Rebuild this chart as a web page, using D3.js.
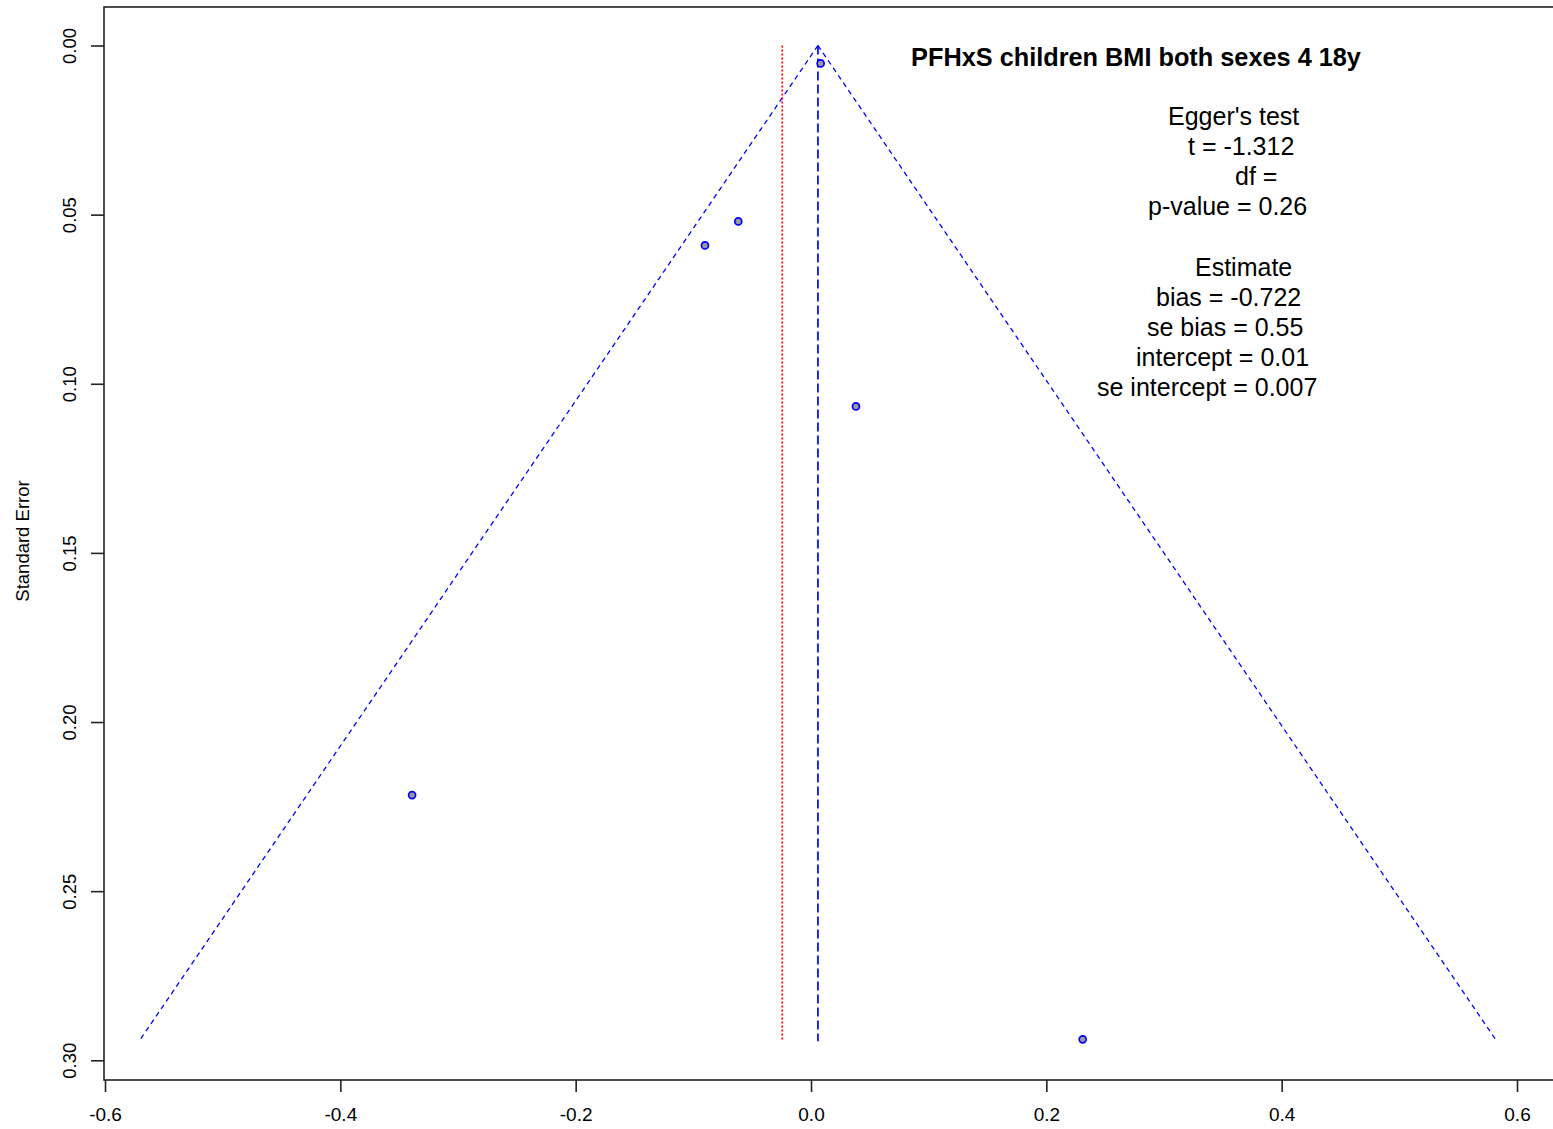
<!DOCTYPE html>
<html><head><meta charset="utf-8">
<script src="https://cdn.jsdelivr.net/npm/d3@7"></script>
<style>
html,body{margin:0;padding:0;background:#fff;}
svg{display:block;font-family:"Liberation Sans",Arial,sans-serif;}
</style></head>
<body>
<script>
// ---- data ----
const studyEstimates = [0.0082, -0.0618, -0.0901, 0.0382, -0.339, 0.2309];
const studySE        = [0.0053, 0.052, 0.0591, 0.1067, 0.2216, 0.2938];
const pooledEstimate = 0.0059;     // blue dashed centre line
const eggerEstimate  = -0.0244;    // red dotted line
const maxSE = 0.2938;
const xTicks = [-0.6, -0.4, -0.2, 0.0, 0.2, 0.4, 0.6];
const yTicks = [0.00, 0.05, 0.10, 0.15, 0.20, 0.25, 0.30];
const titleText = "PFHxS children BMI both sexes 4 18y";
const statLines = ["Egger's test", "t = -1.312", "df =", "p-value = 0.26", "",
                   "Estimate", "bias = -0.722", "se bias = 0.55", "intercept = 0.01", "se intercept = 0.007"];
const yAxisTitle = "Standard Error";

// ---- layout ----
const W = 1553, H = 1129;
const statLeft = [1168, 1188, 1235, 1148, 0, 1195, 1156, 1147, 1136, 1097];

const svg = d3.select("body").append("svg").attr("width", W).attr("height", H);

const x = d3.scaleLinear().domain([-0.6, 0.6]).range([105, 1517]);
const y = d3.scaleLinear().domain([0, 0.30]).range([45.5, 1060.3]);

const box = {left: 104, top: 7, bottom: 1080, right: 1600};

// box
svg.append("rect").attr("x", box.left).attr("y", box.top)
  .attr("width", box.right - box.left).attr("height", box.bottom - box.top)
  .attr("fill", "none").attr("stroke", "#222").attr("stroke-width", 1.6);

// x axis
const xAxis = d3.axisBottom(x).tickValues(xTicks).tickSize(12)
  .tickFormat(d => d === 0 ? "0.0" : d3.format(".1f")(d).replace("−", "-"));
const gx = svg.append("g").attr("transform", `translate(0,${box.bottom})`).call(xAxis);
gx.select(".domain").remove();
gx.selectAll(".tick line").attr("stroke", "#222").attr("stroke-width", 1.6);
gx.selectAll(".tick text").attr("y", 0).attr("dy", 0)
  .attr("transform", "translate(0,41)")
  .attr("font-size", 19).attr("fill", "#000")
  .attr("font-family", "Liberation Sans, Arial, sans-serif");

// y axis
const yAxis = d3.axisLeft(y).tickValues(yTicks).tickSize(13).tickFormat(d3.format(".2f"));
const gy = svg.append("g").attr("transform", `translate(${box.left},0)`).call(yAxis);
gy.select(".domain").remove();
gy.selectAll(".tick line").attr("stroke", "#222").attr("stroke-width", 1.6);
gy.selectAll(".tick text")
  .attr("x", 0).attr("dy", 0).attr("text-anchor", "middle")
  .attr("transform", "translate(-28,0) rotate(-90)")
  .attr("font-size", 18.5).attr("fill", "#000")
  .attr("font-family", "Liberation Sans, Arial, sans-serif");

// y axis title
svg.append("text").attr("transform", `translate(29,${541}) rotate(-90)`)
  .attr("text-anchor", "middle").attr("font-size", 18.5).attr("fill", "#000")
  .text(yAxisTitle);

// funnel
const funnel = [
  [[pooledEstimate, 0], [pooledEstimate - 1.96 * maxSE, maxSE]],
  [[pooledEstimate, 0], [pooledEstimate + 1.96 * maxSE, maxSE]]
];
funnel.forEach(seg => {
  svg.append("line")
    .attr("x1", x(seg[0][0])).attr("y1", y(seg[0][1]))
    .attr("x2", x(seg[1][0])).attr("y2", y(seg[1][1]))
    .attr("stroke", "#0000ff").attr("stroke-width", 1.3)
    .attr("stroke-dasharray", "5,4");
});
// centre line
svg.append("line").attr("x1", x(pooledEstimate)).attr("x2", x(pooledEstimate))
  .attr("y1", y(0)).attr("y2", y(maxSE) + 2)
  .attr("stroke", "#0000ff").attr("stroke-width", 1.7).attr("stroke-dasharray", "9,4");
// egger line
svg.append("line").attr("x1", x(eggerEstimate)).attr("x2", x(eggerEstimate))
  .attr("y1", y(0)).attr("y2", y(maxSE) + 2)
  .attr("stroke", "#ff0000").attr("stroke-width", 1.7).attr("stroke-dasharray", "2,2");

// points
svg.append("g").selectAll("circle").data(studyEstimates).join("circle")
  .attr("cx", d => x(d)).attr("cy", (d, i) => y(studySE[i]))
  .attr("r", 3.5).attr("fill", "#9a9a9a").attr("stroke", "#0000ff").attr("stroke-width", 1.7);

// title
svg.append("text").attr("x", 1136).attr("y", 66).attr("text-anchor", "middle")
  .attr("font-size", 25.3).attr("font-weight", "bold").attr("fill", "#000").text(titleText);

// stats text
svg.append("g").selectAll("text").data(statLines).join("text")
  .attr("x", (d, i) => statLeft[i]).attr("y", (d, i) => 125 + i * 30.1)
  .attr("font-size", 25).attr("fill", "#000").text(d => d);
</script>
</body></html>
